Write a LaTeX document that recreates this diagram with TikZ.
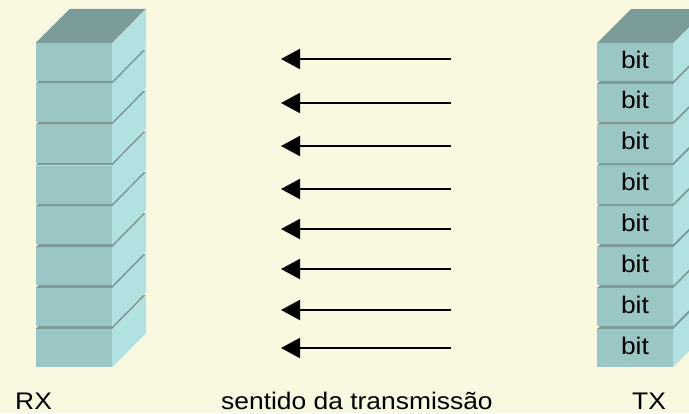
\documentclass[tikz,border=0pt]{standalone}
\usepackage{fontspec}
\setmainfont{Liberation Sans}[FakeStretch=1.1]
\usetikzlibrary{arrows.meta}

\definecolor{paper}{HTML}{F9F8E1}
\definecolor{cubefront}{HTML}{9BC6C6}
\definecolor{cubeside}{HTML}{B2E1E2}
\definecolor{cubetop}{HTML}{7B9B9A}

\tikzset{
  frontface/.style={rectangle, fill=cubefront, inner sep=0pt,
    minimum width=76pt, minimum height=38pt,
    text height=14pt, text depth=2pt, font=\fontsize{24pt}{28pt}\selectfont},
  sideface/.style={fill=cubeside},
  topface/.style={fill=cubetop},
  caption/.style={inner sep=0pt, anchor=base west, font=\fontsize{24pt}{28pt}\selectfont},
  flow/.style={line width=2pt, -{Triangle[length=19pt,width=20pt]}},
}

\begin{document}
\begin{tikzpicture}[x=1pt, y=-1pt]
  \useasboundingbox (0,0) rectangle (689,413);
  \clip (0,0) rectangle (689,413);
  \fill[paper] (0,0) rectangle (689,413);

  % register stacks: drawn bottom to top so each cube hides the one below
  \foreach \i in {7,...,0} {
    \pgfmathsetmacro{\cy}{62+40.86*\i}
    % receiver (empty cells)
    \node[frontface] (rx\i) at (74,\cy) {};
    \fill[sideface] (rx\i.north east) -- ++(34,-34) -- ++(0,38) -- (rx\i.south east) -- cycle;
    \fill[topface] (rx\i.north west) -- ++(34,-34) -- ++(76,0) -- (rx\i.north east) -- cycle;
    % transmitter (cells holding a bit)
    \fill[sideface] (673,\cy-19) -- ++(34,-34) -- ++(0,38) -- (673,\cy+19) -- cycle;
    \fill[topface] (597,\cy-19) -- ++(34,-34) -- ++(76,0) -- (673,\cy-19) -- cycle;
    \node[frontface] (tx\i) at (635,\cy) {bit};
  }

  % transmission arrows, right to left
  \foreach \k/\y in {0/59,1/103,2/146,3/189,4/229,5/269,6/310,7/348} {
    \coordinate (from\k) at (451,\y);
    \coordinate (to\k) at (281,\y);
    \draw[flow] (from\k) -- (to\k);
  }

  \node[caption] (rxlabel) at (15,409) {RX};
  \node[caption] (dirlabel) at (221,409) {sentido da transmissão};
  \node[caption] (txlabel) at (632,409) {TX};
\end{tikzpicture}
\end{document}
